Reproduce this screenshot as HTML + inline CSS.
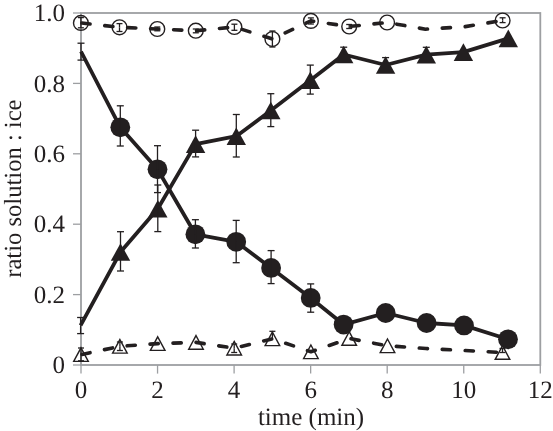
<!DOCTYPE html>
<html><head><meta charset="utf-8"><style>
html,body{margin:0;padding:0;background:#fff;}
svg{display:block;will-change:transform;}
text{font-family:"Liberation Serif",serif;font-size:25px;fill:#231f20;text-rendering:geometricPrecision;}
</style></head><body>
<svg width="553" height="431" viewBox="0 0 553 431">
<g stroke="#9d9fa2" stroke-width="1.8" fill="none"><rect x="81" y="13" width="459.3" height="352"/><line x1="73" y1="365" x2="81" y2="365" stroke-width="1.3"/><line x1="73" y1="294.6" x2="81" y2="294.6" stroke-width="1.3"/><line x1="73" y1="224.2" x2="81" y2="224.2" stroke-width="1.3"/><line x1="73" y1="153.8" x2="81" y2="153.8" stroke-width="1.3"/><line x1="73" y1="83.4" x2="81" y2="83.4" stroke-width="1.3"/><line x1="73" y1="13" x2="81" y2="13" stroke-width="1.3"/><line x1="81" y1="365" x2="81" y2="373.6" stroke-width="1.3"/><line x1="157.55" y1="365" x2="157.55" y2="373.6" stroke-width="1.3"/><line x1="234.1" y1="365" x2="234.1" y2="373.6" stroke-width="1.3"/><line x1="310.65" y1="365" x2="310.65" y2="373.6" stroke-width="1.3"/><line x1="387.2" y1="365" x2="387.2" y2="373.6" stroke-width="1.3"/><line x1="463.75" y1="365" x2="463.75" y2="373.6" stroke-width="1.3"/><line x1="540.3" y1="365" x2="540.3" y2="373.6" stroke-width="1.3"/></g><g stroke="#231f20" stroke-width="3.6" fill="none" stroke-dasharray="8.2 14.8" stroke-dashoffset="-1" stroke-linecap="round" stroke-linejoin="round"><polyline points="80.9,22.9 119.5,27.3 157.3,29 195.8,30.7 234.4,27 272.4,39 310.9,20.9 349.2,26.5 387.1,22.5 425.5,29.2 464,26.8 502.6,20.5"/><polyline points="81,354.6 119.9,346.35 157.7,343.6 196,342.4 234.2,348.2 272.4,338.8 310.9,351.8 349.2,338.5 387.5,345.8 426,348.5 464,350.5 502.5,352.5"/></g><g stroke="#231f20" stroke-width="3.8" fill="none" stroke-linejoin="round"><polyline points="81,51.5 120.3,127.3 157.5,169.3 195.4,234.3 236.2,241.8 271.1,267.9 310.7,297.9 343.6,324.6 385.7,313 426.6,323 464,325.4 508,339.3"/><polyline points="80.6,325.3 120.5,252 157.8,208.8 195.6,144.1 236.3,136.2 270.8,110.5 310.3,80.3 343.7,54.5 385.6,65 426.3,54.6 463.4,52.1 508.3,38.4"/></g><g fill="#231f20"><circle cx="120.3" cy="127.3" r="9.9"/><circle cx="157.5" cy="169.3" r="9.9"/><circle cx="195.4" cy="234.3" r="9.9"/><circle cx="236.2" cy="241.8" r="9.9"/><circle cx="271.1" cy="267.9" r="9.9"/><circle cx="310.7" cy="297.9" r="9.9"/><circle cx="343.6" cy="324.6" r="9.9"/><circle cx="385.7" cy="313" r="9.9"/><circle cx="426.6" cy="323" r="9.9"/><circle cx="464" cy="325.4" r="9.9"/><circle cx="508" cy="339.3" r="9.9"/><polygon points="120.5,243.2 130.2,260.8 110.8,260.8"/><polygon points="157.8,200 167.5,217.6 148.1,217.6"/><polygon points="195.6,135.3 205.3,152.9 185.9,152.9"/><polygon points="236.3,127.4 246,145 226.6,145"/><polygon points="270.8,101.7 280.5,119.3 261.1,119.3"/><polygon points="310.3,71.5 320,89.1 300.6,89.1"/><polygon points="343.7,45.7 353.4,63.3 334,63.3"/><polygon points="385.6,56.2 395.3,73.8 375.9,73.8"/><polygon points="426.3,45.8 436,63.4 416.6,63.4"/><polygon points="463.4,43.3 473.1,60.9 453.7,60.9"/><polygon points="508.3,29.6 518,47.2 498.6,47.2"/></g><g fill="none" stroke="#231f20" stroke-width="1.4"><circle cx="80.9" cy="22.9" r="7.4"/><circle cx="119.5" cy="27.3" r="7.4"/><circle cx="157.3" cy="29" r="7.4"/><circle cx="195.8" cy="30.7" r="7.4"/><circle cx="234.4" cy="27" r="7.4"/><circle cx="272.4" cy="39" r="7.4"/><circle cx="310.9" cy="20.9" r="7.4"/><circle cx="349.2" cy="26.5" r="7.4"/><circle cx="387.1" cy="22.5" r="7.4"/><circle cx="502.6" cy="20.5" r="7.4"/><polygon points="81,347.8 88.3,361.4 73.7,361.4" stroke-linejoin="miter"/><polygon points="119.9,339.55 127.2,353.15 112.6,353.15" stroke-linejoin="miter"/><polygon points="157.7,336.8 165,350.4 150.4,350.4" stroke-linejoin="miter"/><polygon points="196,335.6 203.3,349.2 188.7,349.2" stroke-linejoin="miter"/><polygon points="234.2,341.4 241.5,355 226.9,355" stroke-linejoin="miter"/><polygon points="272.4,332 279.7,345.6 265.1,345.6" stroke-linejoin="miter"/><polygon points="310.9,345 318.2,358.6 303.6,358.6" stroke-linejoin="miter"/><polygon points="349.2,331.7 356.5,345.3 341.9,345.3" stroke-linejoin="miter"/><polygon points="387.5,339 394.8,352.6 380.2,352.6" stroke-linejoin="miter"/><polygon points="502.5,345.7 509.8,359.3 495.2,359.3" stroke-linejoin="miter"/></g><g stroke="#231f20" stroke-width="1.3"><line x1="81" y1="43.2" x2="81" y2="51.5"/><line x1="77.5" y1="43.2" x2="84.5" y2="43.2"/><line x1="81" y1="51.5" x2="81" y2="60.1"/><line x1="77.5" y1="60.1" x2="84.5" y2="60.1"/><line x1="120.3" y1="105.8" x2="120.3" y2="127.3"/><line x1="116.8" y1="105.8" x2="123.8" y2="105.8"/><line x1="120.3" y1="127.3" x2="120.3" y2="146"/><line x1="116.8" y1="146" x2="123.8" y2="146"/><line x1="157.5" y1="145.7" x2="157.5" y2="169.3"/><line x1="154" y1="145.7" x2="161" y2="145.7"/><line x1="157.5" y1="169.3" x2="157.5" y2="192.6"/><line x1="154" y1="192.6" x2="161" y2="192.6"/><line x1="195.4" y1="219.7" x2="195.4" y2="234.3"/><line x1="191.9" y1="219.7" x2="198.9" y2="219.7"/><line x1="195.4" y1="234.3" x2="195.4" y2="248"/><line x1="191.9" y1="248" x2="198.9" y2="248"/><line x1="236.2" y1="220.4" x2="236.2" y2="241.8"/><line x1="232.7" y1="220.4" x2="239.7" y2="220.4"/><line x1="236.2" y1="241.8" x2="236.2" y2="262.7"/><line x1="232.7" y1="262.7" x2="239.7" y2="262.7"/><line x1="271.1" y1="250.6" x2="271.1" y2="267.9"/><line x1="267.6" y1="250.6" x2="274.6" y2="250.6"/><line x1="271.1" y1="267.9" x2="271.1" y2="283.6"/><line x1="267.6" y1="283.6" x2="274.6" y2="283.6"/><line x1="310.7" y1="283.9" x2="310.7" y2="297.9"/><line x1="307.2" y1="283.9" x2="314.2" y2="283.9"/><line x1="310.7" y1="297.9" x2="310.7" y2="312.2"/><line x1="307.2" y1="312.2" x2="314.2" y2="312.2"/><line x1="80.6" y1="317.5" x2="80.6" y2="325.3"/><line x1="77.1" y1="317.5" x2="84.1" y2="317.5"/><line x1="80.6" y1="325.3" x2="80.6" y2="333.6"/><line x1="77.1" y1="333.6" x2="84.1" y2="333.6"/><line x1="120.5" y1="231.7" x2="120.5" y2="252"/><line x1="117" y1="231.7" x2="124" y2="231.7"/><line x1="120.5" y1="252" x2="120.5" y2="271"/><line x1="117" y1="271" x2="124" y2="271"/><line x1="157.8" y1="185" x2="157.8" y2="208.8"/><line x1="154.3" y1="185" x2="161.3" y2="185"/><line x1="157.8" y1="208.8" x2="157.8" y2="231.6"/><line x1="154.3" y1="231.6" x2="161.3" y2="231.6"/><line x1="195.6" y1="130.2" x2="195.6" y2="144.1"/><line x1="192.1" y1="130.2" x2="199.1" y2="130.2"/><line x1="195.6" y1="144.1" x2="195.6" y2="156.9"/><line x1="192.1" y1="156.9" x2="199.1" y2="156.9"/><line x1="236.3" y1="114.5" x2="236.3" y2="136.2"/><line x1="232.8" y1="114.5" x2="239.8" y2="114.5"/><line x1="236.3" y1="136.2" x2="236.3" y2="157"/><line x1="232.8" y1="157" x2="239.8" y2="157"/><line x1="270.8" y1="93.7" x2="270.8" y2="110.5"/><line x1="267.3" y1="93.7" x2="274.3" y2="93.7"/><line x1="270.8" y1="110.5" x2="270.8" y2="126.6"/><line x1="267.3" y1="126.6" x2="274.3" y2="126.6"/><line x1="310.3" y1="65.1" x2="310.3" y2="80.3"/><line x1="306.8" y1="65.1" x2="313.8" y2="65.1"/><line x1="310.3" y1="80.3" x2="310.3" y2="94.1"/><line x1="306.8" y1="94.1" x2="313.8" y2="94.1"/><line x1="343.7" y1="47.2" x2="343.7" y2="54.5"/><line x1="340.2" y1="47.2" x2="347.2" y2="47.2"/><line x1="385.6" y1="57.6" x2="385.6" y2="65"/><line x1="382.1" y1="57.6" x2="389.1" y2="57.6"/><line x1="426.3" y1="47.3" x2="426.3" y2="54.6"/><line x1="422.8" y1="47.3" x2="429.8" y2="47.3"/><line x1="80.9" y1="17.6" x2="80.9" y2="22.9"/><line x1="77.9" y1="17.6" x2="83.9" y2="17.6"/><line x1="80.9" y1="22.9" x2="80.9" y2="27.8"/><line x1="77.9" y1="27.8" x2="83.9" y2="27.8"/><line x1="119.5" y1="23.6" x2="119.5" y2="27.3"/><line x1="116.5" y1="23.6" x2="122.5" y2="23.6"/><line x1="119.5" y1="27.3" x2="119.5" y2="31.5"/><line x1="116.5" y1="31.5" x2="122.5" y2="31.5"/><line x1="157.3" y1="27" x2="157.3" y2="29"/><line x1="154.3" y1="27" x2="160.3" y2="27"/><line x1="157.3" y1="29" x2="157.3" y2="30.8"/><line x1="154.3" y1="30.8" x2="160.3" y2="30.8"/><line x1="195.8" y1="29" x2="195.8" y2="30.7"/><line x1="192.8" y1="29" x2="198.8" y2="29"/><line x1="195.8" y1="30.7" x2="195.8" y2="32.8"/><line x1="192.8" y1="32.8" x2="198.8" y2="32.8"/><line x1="234.4" y1="24.2" x2="234.4" y2="27"/><line x1="231.4" y1="24.2" x2="237.4" y2="24.2"/><line x1="234.4" y1="27" x2="234.4" y2="30.3"/><line x1="231.4" y1="30.3" x2="237.4" y2="30.3"/><line x1="272.4" y1="31" x2="272.4" y2="39"/><line x1="269.4" y1="31" x2="275.4" y2="31"/><line x1="272.4" y1="39" x2="272.4" y2="47"/><line x1="269.4" y1="47" x2="275.4" y2="47"/><line x1="310.9" y1="17.9" x2="310.9" y2="20.9"/><line x1="307.9" y1="17.9" x2="313.9" y2="17.9"/><line x1="310.9" y1="20.9" x2="310.9" y2="24"/><line x1="307.9" y1="24" x2="313.9" y2="24"/><line x1="349.2" y1="24.5" x2="349.2" y2="26.5"/><line x1="346.2" y1="24.5" x2="352.2" y2="24.5"/><line x1="349.2" y1="26.5" x2="349.2" y2="28.5"/><line x1="346.2" y1="28.5" x2="352.2" y2="28.5"/><line x1="502.6" y1="17.8" x2="502.6" y2="20.5"/><line x1="499.6" y1="17.8" x2="505.6" y2="17.8"/><line x1="502.6" y1="20.5" x2="502.6" y2="22.6"/><line x1="499.6" y1="22.6" x2="505.6" y2="22.6"/><line x1="81" y1="348" x2="81" y2="354.6"/><line x1="78" y1="348" x2="84" y2="348"/><line x1="81" y1="354.6" x2="81" y2="360.8"/><line x1="78" y1="360.8" x2="84" y2="360.8"/><line x1="119.9" y1="342" x2="119.9" y2="346.35"/><line x1="116.9" y1="342" x2="122.9" y2="342"/><line x1="119.9" y1="346.35" x2="119.9" y2="350.5"/><line x1="116.9" y1="350.5" x2="122.9" y2="350.5"/><line x1="234.2" y1="344" x2="234.2" y2="348.2"/><line x1="231.2" y1="344" x2="237.2" y2="344"/><line x1="234.2" y1="348.2" x2="234.2" y2="352.5"/><line x1="231.2" y1="352.5" x2="237.2" y2="352.5"/><line x1="272.4" y1="331.3" x2="272.4" y2="338.8"/><line x1="269.4" y1="331.3" x2="275.4" y2="331.3"/><line x1="502.5" y1="348.5" x2="502.5" y2="352.5"/><line x1="499.5" y1="348.5" x2="505.5" y2="348.5"/><line x1="502.5" y1="352.5" x2="502.5" y2="352.5"/><line x1="499.5" y1="352.5" x2="505.5" y2="352.5"/></g>
<text x="65" y="373.2" text-anchor="end">0</text><text x="65" y="302.8" text-anchor="end">0.2</text><text x="65" y="232.4" text-anchor="end">0.4</text><text x="65" y="162" text-anchor="end">0.6</text><text x="65" y="91.6" text-anchor="end">0.8</text><text x="65" y="21.2" text-anchor="end">1.0</text><text x="81" y="398" text-anchor="middle">0</text><text x="157.55" y="398" text-anchor="middle">2</text><text x="234.1" y="398" text-anchor="middle">4</text><text x="310.65" y="398" text-anchor="middle">6</text><text x="387.2" y="398" text-anchor="middle">8</text><text x="463.75" y="398" text-anchor="middle">10</text><text x="540.3" y="398" text-anchor="middle">12</text><text x="311" y="425" text-anchor="middle">time (min)</text><text transform="translate(21.3,188.6) rotate(-90)" text-anchor="middle" style="font-size:24.6px">ratio solution : ice</text>
</svg>
</body></html>
